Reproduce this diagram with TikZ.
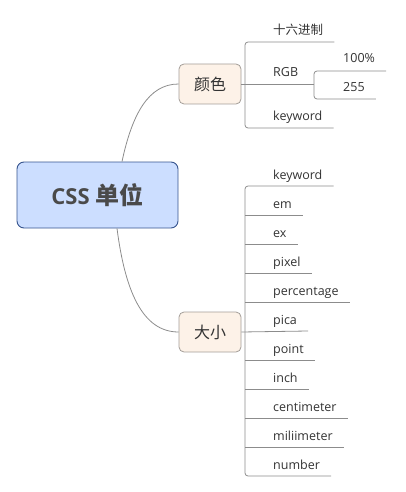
\documentclass[tikz,border=0pt]{standalone}
\usepackage{fontspec}
\setmainfont{Open Sans}
\newfontfamily\cjk{Noto Sans CJK SC}
\definecolor{linegray}{HTML}{8C8C8C}
\definecolor{rootfill}{HTML}{CCDEFF}
\definecolor{rootdraw}{HTML}{36548E}
\definecolor{subfill}{HTML}{FDF2E8}
\definecolor{subdraw}{HTML}{A39D98}
\definecolor{txt}{HTML}{333333}
\definecolor{roottxt}{HTML}{4A4A4A}
\begin{document}
\begin{tikzpicture}[x=1pt,y=-1pt,
  conn/.style={draw=linegray, line width=0.8pt},
  trunk/.style={draw=linegray, line width=0.8pt, rounded corners=3pt},
  rootbox/.style={draw=rootdraw, fill=rootfill, line width=0.9pt, rounded corners=7pt,
    minimum width=161pt, minimum height=66pt, inner sep=0pt, text=roottxt,
    font=\fontsize{22}{26}\selectfont\bfseries},
  subbox/.style={draw=subdraw, fill=subfill, line width=0.8pt, rounded corners=5pt,
    minimum width=62pt, minimum height=40pt, inner sep=0pt, text=txt,
    font=\fontsize{16}{19}\selectfont\cjk},
  leaf/.style={anchor=base west, inner xsep=0pt, inner ysep=2pt, text=txt,
    font=\fontsize{12.5}{15}\selectfont}
]
\useasboundingbox (0,0) rectangle (405,492);

% root and main topics
\node[rootbox] (root) at (97.5,195) {CSS\hspace{6pt}{\cjk\fontsize{24}{28}\selectfont 单位}};
\node[subbox] (color) at (210,84) {颜色};
\node[subbox] (size) at (210,332) {大小};

\draw[conn] ([xshift=24.5pt]root.north) .. controls (132,115) and (148,84) .. (color.west);
\draw[conn] ([xshift=19.5pt]root.south) .. controls (125,290) and (142,332) .. (size.west);

% ---- colour branch ----
\node[leaf] (hex) at (273,35) {{\cjk 十六进制}};
\node[leaf] (rgb) at (273,77) {RGB};
\node[leaf] (ckw) at (273,121) {keyword};
\coordinate (hexE) at ([xshift=11pt]hex.east |- 0,42);
\coordinate (ckwE) at ([xshift=11pt]ckw.east |- 0,128);
\coordinate (rgbT) at (314,84);
\draw[trunk] (hexE) -- (245,42) -- (245,128) -- (ckwE);
\draw[conn] (color.east) -- (rgbT);

\node[leaf] (p100) at (343,63) {100\%};
\node[leaf] (p255) at (343,92) {255};
\coordinate (p100E) at ([xshift=11pt]p100.east |- 0,71);
\coordinate (p255E) at ([xshift=11pt]p255.east |- 0,99);
\draw[trunk] (p100E) -- (314,71) -- (314,99) -- (p255E);

% ---- size branch ----
\foreach \name/\y/\t in {s1/186/keyword, s2/215/em, s3/244/ex, s4/273/pixel,
    s5/302/percentage, s6/331/pica, s7/360/point, s8/389/inch,
    s9/418/centimeter, s10/447/miliimeter, s11/476/number}{
  \node[leaf] (\name) at (273,\y-7) {\t};
  \coordinate (\name E) at ([xshift=11pt]\name.east |- 0,\y);
  \coordinate (\name W) at (245,\y);
}
\draw[trunk] (s1E) -- (s1W) -- (s11W) -- (s11E);
\foreach \name in {s2,s3,s4,s5,s7,s8,s9,s10}{
  \draw[conn] (\name W) -- (\name E);
}
\draw[conn] (size.east) -- (s6E);
\end{tikzpicture}
\end{document}
